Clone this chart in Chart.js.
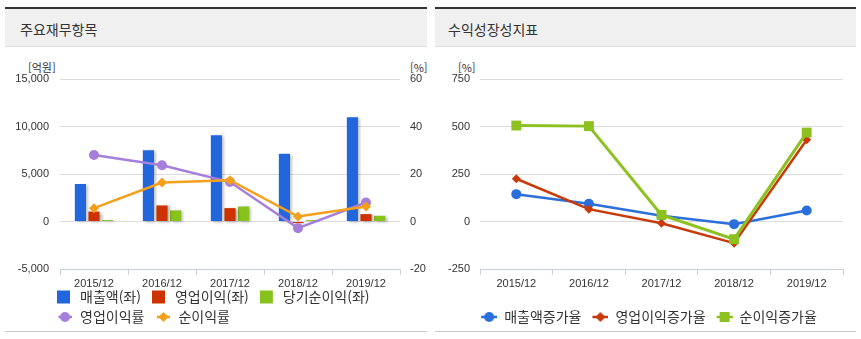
<!DOCTYPE html>
<html lang="ko">
<head>
<meta charset="utf-8">
<script src="https://cdn.jsdelivr.net/npm/chart.js@4.4.1/dist/chart.umd.min.js"></script>
<style>
  body { margin: 0; background: #fff; font-family: "Noto Sans CJK KR", sans-serif; overflow: hidden; }
  .panel { position: absolute; top: 7px; height: 322px; border-top: 2px solid #333; border-bottom: 1px solid #ccc; }
  .panel h2 { margin: 0; height: 38px; line-height: 40px; background: #f0f0f0; border-bottom: 1px solid #ddd;
              font-size: 14px; font-weight: normal; color: #333; box-sizing: border-box; }
  .unit { position: absolute; top: 60px; font-size: 11px; line-height: 14px; color: #333; }
  canvas { position: absolute; top: 50px; }
</style>
</head>
<body>
<div class="panel" style="left:5px;width:422px"><h2 style="padding-left:15px">주요재무항목</h2></div>
<div class="panel" style="left:435px;width:421px"><h2 style="padding-left:13px">수익성장성지표</h2></div>
<div class="unit" style="left:28px">[억원]</div>
<div class="unit" style="left:410px">[%]</div>
<div class="unit" style="left:458px">[%]</div>
<canvas id="financeChart" width="427" height="284" style="left:0"></canvas>
<canvas id="growthChart" width="427" height="284" style="left:433px"></canvas>
<script>
// categories
const years = ['2015/12', '2016/12', '2017/12', '2018/12', '2019/12'];

// 주요재무항목 (억원, 좌)
const sales = [3950, 7500, 9080, 7130, 10980];
const opProfit = [1050, 1685, 1410, -170, 780];
const netProfit = [150, 1160, 1580, 150, 600];
// 주요재무항목 (%, 우)
const opMargin = [28.0, 23.7, 16.6, -2.8, 8.0];
const netMargin = [5.6, 16.4, 17.4, 2.1, 6.3];

// 수익성장성지표 (%)
const salesGrowth = [144, 93, 30, -14, 58];
const opGrowth = [225, 65, -9, -114, 430];
const netGrowth = [505, 502, 35, -93, 468];

// axis ranges (tick labels)
const amountAxis = { min: -5000, max: 15000, step: 5000 };
const marginAxis = { min: -20, max: 60, step: 20 };
const growthAxis = { min: -250, max: 750, step: 250 };

const tickFont = { family: 'Liberation Sans', size: 11 };
const legendFont = { family: 'Noto Sans CJK KR', size: 14 };
const gridColor = '#dddddd';
const axisColor = '#c5d0dc';

// small canvases used as legend symbols
function boxIcon(color) {
  const c = document.createElement('canvas');
  c.width = 21; c.height = 14;
  const g = c.getContext('2d');
  g.fillStyle = color;
  g.fillRect(5, 0.5, 13, 13);
  return c;
}
function lineIcon(color, shape, width) {
  const c = document.createElement('canvas');
  c.width = 5 + width; c.height = 14;
  const g = c.getContext('2d');
  const cx = 5 + width / 2, cy = 7;
  g.strokeStyle = color; g.fillStyle = color; g.lineWidth = 2.5;
  g.beginPath(); g.moveTo(5, cy); g.lineTo(5 + width, cy); g.stroke();
  g.beginPath();
  if (shape === 'circle') g.arc(cx, cy, 5, 0, Math.PI * 2);
  else if (shape === 'diamond') { g.moveTo(cx, cy - 5); g.lineTo(cx + 5, cy); g.lineTo(cx, cy + 5); g.lineTo(cx - 5, cy); g.closePath(); }
  else g.rect(cx - 5, cy - 5, 10, 10);
  g.fill();
  return c;
}

const barShadow = {
  id: 'barShadow',
  beforeDatasetDraw(chart, args) {
    if (args.meta.type !== 'bar') return;
    const ctx = chart.ctx;
    ctx.save();
    ctx.shadowColor = 'rgba(0,0,0,0.3)';
    ctx.shadowBlur = 3;
    ctx.shadowOffsetX = 2;
    ctx.shadowOffsetY = 1;
  },
  afterDatasetDraw(chart, args) {
    if (args.meta.type !== 'bar') return;
    chart.ctx.restore();
  }
};

// put the legend where the page had it, and let the x labels show below a short axis box
const legendPlace = {
  id: 'legendPlace',
  afterLayout(chart, args, opts) {
    chart.legend.left = opts.left;
    chart.legend.right = opts.right;
    const x = chart.scales.x;
    x.bottom = Math.max(x.bottom, x.top + 30);
  }
};

function legendWithIcons(icons) {
  return {
    usePointStyle: true,
    pointStyleWidth: 21,
    padding: 6,
    color: '#333',
    font: legendFont,
    sort: (a, b) => a.datasetIndex - b.datasetIndex,
    generateLabels(chart) {
      const items = Chart.defaults.plugins.legend.labels.generateLabels(chart);
      items.forEach(it => { it.pointStyle = icons[it.datasetIndex]; });
      return items;
    }
  };
}

const BLUE = '#2266dd', RED = '#cc3300', GREEN = '#88c21c', PURPLE = '#a57fda', ORANGE = '#f5a01a';

new Chart(document.getElementById('financeChart'), {
  type: 'bar',
  data: {
    labels: years,
    datasets: [
      { label: '매출액(좌)', data: sales, backgroundColor: BLUE, yAxisID: 'y', order: 3 },
      { label: '영업이익(좌)', data: opProfit, backgroundColor: RED, yAxisID: 'y', order: 3 },
      { label: '당기순이익(좌)', data: netProfit, backgroundColor: GREEN, yAxisID: 'y', order: 3 },
      { type: 'line', label: '영업이익률', data: opMargin, yAxisID: 'y2', order: 2,
        borderColor: PURPLE, backgroundColor: PURPLE, borderWidth: 2.5,
        pointStyle: 'circle', pointRadius: 5, pointBorderWidth: 0 },
      { type: 'line', label: '순이익률', data: netMargin, yAxisID: 'y2', order: 1,
        borderColor: ORANGE, backgroundColor: ORANGE, borderWidth: 2.5,
        pointStyle: 'rectRot', pointRadius: 5, pointBorderWidth: 0 }
    ]
  },
  options: {
    responsive: false,
    animation: false,
    locale: 'en-US',
    categoryPercentage: 0.6,
    barPercentage: 0.82,
    layout: { padding: { top: 29 } },
    plugins: {
      tooltip: { enabled: false },
      legend: { position: 'bottom', align: 'start', labels: legendWithIcons([
        boxIcon(BLUE), boxIcon(RED), boxIcon(GREEN),
        lineIcon(PURPLE, 'circle', 13), lineIcon(ORANGE, 'diamond', 13)
      ]) },
      legendPlace: { left: 46, right: 427 }
    },
    scales: {
      x: {
        afterFit(s) { s.height = 15; },
        grid: { drawOnChartArea: false, tickLength: 6, color: axisColor },
        border: { color: axisColor },
        ticks: { font: tickFont, color: '#333', padding: 2 }
      },
      y: {
        position: 'left',
        min: amountAxis.min, max: amountAxis.max,
        afterFit(s) { s.width = 60; },
        grid: { color: gridColor, drawTicks: false },
        border: { display: false },
        ticks: { stepSize: amountAxis.step, font: tickFont, color: '#333', padding: 11 }
      },
      y2: {
        position: 'right',
        min: marginAxis.min, max: marginAxis.max,
        afterFit(s) { s.width = 27; },
        grid: { drawOnChartArea: false, drawTicks: false },
        border: { display: false },
        ticks: { stepSize: marginAxis.step, font: tickFont, color: '#333', padding: 10 }
      }
    }
  },
  plugins: [barShadow, legendPlace]
});

new Chart(document.getElementById('growthChart'), {
  type: 'line',
  data: {
    labels: years,
    datasets: [
      { label: '매출액증가율', data: salesGrowth, order: 3,
        borderColor: '#2b6fdc', backgroundColor: '#2b6fdc', borderWidth: 2.5,
        pointStyle: 'circle', pointRadius: 5, pointBorderWidth: 0 },
      { label: '영업이익증가율', data: opGrowth, order: 2,
        borderColor: '#c83a0a', backgroundColor: '#c83a0a', borderWidth: 2.5,
        pointStyle: 'rectRot', pointRadius: 4.5, pointBorderWidth: 0 },
      { label: '순이익증가율', data: netGrowth, order: 1,
        borderColor: '#8cc11f', backgroundColor: '#8cc11f', borderWidth: 3,
        pointStyle: 'rect', pointRadius: 7, pointBorderWidth: 0 }
    ]
  },
  options: {
    responsive: false,
    animation: false,
    locale: 'en-US',
    layout: { padding: { top: 29, right: 17 } },
    plugins: {
      tooltip: { enabled: false },
      legend: { position: 'bottom', labels: legendWithIcons([
        lineIcon('#2b6fdc', 'circle', 16), lineIcon('#c83a0a', 'diamond', 16), lineIcon('#8cc11f', 'square', 16)
      ]) },
      legendPlace: { left: 0, right: 427 }
    },
    scales: {
      x: {
        offset: true,
        afterFit(s) { s.height = 35; },
        grid: { offset: true, drawOnChartArea: false, tickLength: 6, color: axisColor },
        border: { color: axisColor },
        ticks: { font: tickFont, color: '#333', padding: 2 }
      },
      y: {
        min: growthAxis.min, max: growthAxis.max,
        afterFit(s) { s.width = 47; },
        grid: { color: gridColor, drawTicks: false },
        border: { display: false },
        ticks: { stepSize: growthAxis.step, font: tickFont, color: '#333', padding: 10 }
      }
    }
  },
  plugins: [legendPlace]
});
</script>
</body>
</html>
